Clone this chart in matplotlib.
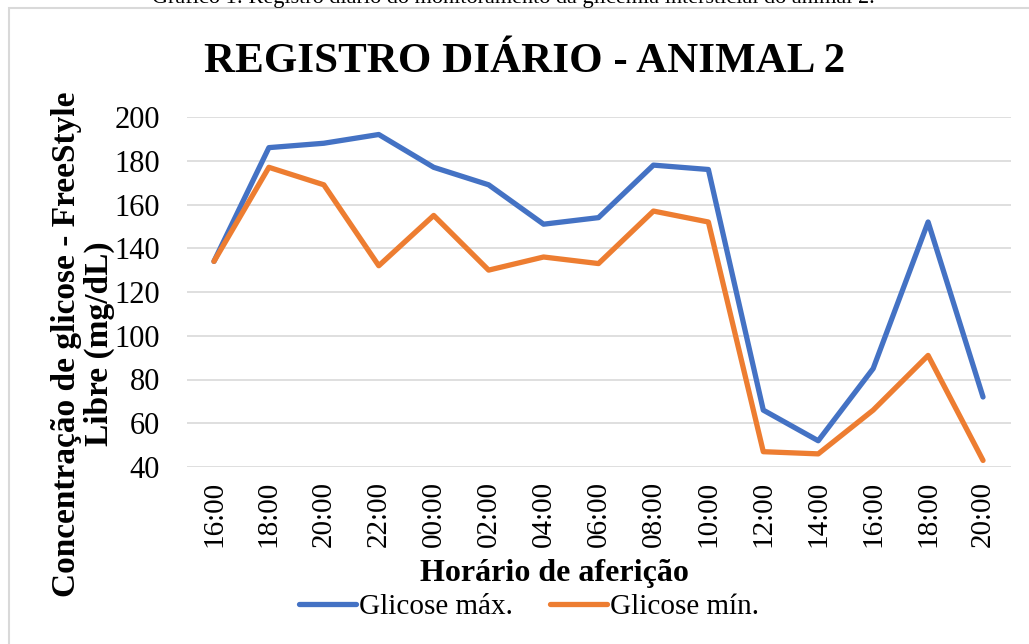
import numpy as np
import matplotlib
matplotlib.use("Agg")
import matplotlib.pyplot as plt
from matplotlib.patches import Rectangle

plt.rcParams["font.family"] = ["Liberation Serif", "DejaVu Serif"]

horarios = ["16:00", "18:00", "20:00", "22:00", "00:00", "02:00", "04:00", "06:00",
            "08:00", "10:00", "12:00", "14:00", "16:00", "18:00", "20:00"]
glic_max = [134, 186, 188, 192, 177, 169, 151, 154, 178, 176, 66, 52, 85, 152, 72]
glic_min = [134, 177, 169, 132, 155, 130, 136, 133, 157, 152, 47, 46, 66, 91, 43]

BLUE = "#4472C4"; ORANGE = "#ED7D31"; GRID = "#D9D9D9"
W, H = 1029, 644

fig = plt.figure(figsize=(W/100, H/100), dpi=100)
ax = fig.add_axes([186.5/W, 1-467/H, (1010.5-186.5)/W, 350/H])

x = np.arange(len(horarios))
ax.plot(x, glic_max, color=BLUE, lw=3.8, solid_joinstyle="round", solid_capstyle="round", label="Glicose máx.")
ax.plot(x, glic_min, color=ORANGE, lw=3.8, solid_joinstyle="round", solid_capstyle="round", label="Glicose mín.")

ax.set_xlim(-0.5, len(horarios)-0.5)
ax.set_ylim(40, 200)
ax.set_yticks(range(40, 201, 20))
ax.set_yticklabels([str(v) for v in range(40, 201, 20)], fontsize=22)
ax.set_xticks(x)
ax.set_xticklabels(horarios, rotation=90, fontsize=21)
ax.tick_params(length=0)
ax.tick_params(axis="x", pad=10)
ax.tick_params(axis="y", pad=19)
for s in ax.spines.values(): s.set_visible(False)
ax.grid(axis="y", color=GRID, lw=1.2)
ax.set_axisbelow(True)

fig.text(525/W, 1-72/H, "REGISTRO DIÁRIO - ANIMAL 2", fontsize=31, fontweight="bold",
         ha="center", va="baseline")
ax.set_xlabel("Horário de aferição", fontsize=23, fontweight="bold")
ax.xaxis.set_label_coords(554/W, 1-574/H, transform=fig.transFigure)
ax.xaxis.label.set_va("center")
fig.text(83/W, 1-344/H, "Concentração de glicose - FreeStyle\nLibre (mg/dL)", fontsize=24,
         fontweight="bold", rotation=90, ha="center", va="center", multialignment="center",
         linespacing=1.05)

ax.legend(loc="center", bbox_to_anchor=(529/W, 1-607/H), bbox_transform=fig.transFigure,
          ncol=2, frameon=False, fontsize=21, handlelength=1.95, handletextpad=0.12,
          columnspacing=1.25, borderpad=0, borderaxespad=0)

fig.patches.append(Rectangle((9/W, -0.1), 1.1, 1-8/H+0.1, transform=fig.transFigure,
                             fill=False, edgecolor=GRID, lw=1.5))
fig.text(513/W, 1-3.5/H, "Gráfico 1: Registro diário do monitoramento da glicemia intersticial do animal 2.",
         ha="center", va="baseline", fontsize=16)

fig.savefig("out.png", dpi=100)
